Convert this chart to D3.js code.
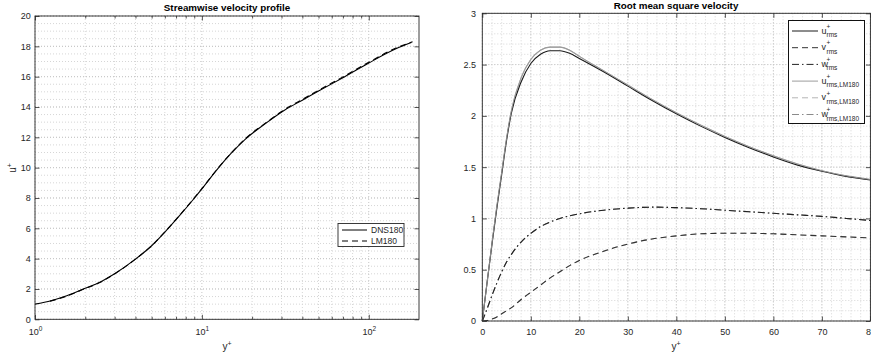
<!DOCTYPE html>
<html><head><meta charset="utf-8">
<script src="https://cdn.jsdelivr.net/npm/d3@7"></script>
<style>body{margin:0;background:#fff}svg{display:block;font-family:"Liberation Sans",Arial,Helvetica,sans-serif}</style>
</head><body><svg id="c" width="871" height="358"></svg>
<script>
// ---------- data: streamwise velocity profile ----------
const yPlusMean   = [1, 1.25, 1.5, 1.9, 2.5, 3, 3.98, 5, 6.0, 7.3, 8.8, 10, 12.5, 15, 18.1, 24, 31.4, 40, 50, 71.8, 100, 146.5, 180];
const uMeanDNS    = [1.0, 1.22, 1.5, 1.95, 2.5, 3.0, 3.95, 4.85, 5.75, 6.8, 7.85, 8.6, 9.95, 10.95, 11.85, 12.9, 13.8, 14.45, 15.05, 16.0, 16.9, 17.85, 18.25];
const yPlusMeanLM = [1.23, 1.5, 1.9, 2.5, 3, 3.98, 5, 6.0, 7.3, 8.8, 10, 12.5, 15, 18.1, 24, 31.4, 40, 50, 71.8, 100, 146.5, 183];
const uMeanLM     = [1.2, 1.47, 1.93, 2.48, 2.99, 3.95, 4.85, 5.76, 6.82, 7.87, 8.62, 9.97, 10.97, 11.88, 12.93, 13.84, 14.5, 15.1, 16.05, 16.95, 17.9, 18.3];

// ---------- data: rms velocities ----------
const yPlusRms = [0, 1, 2, 3, 4, 5, 6, 8, 10, 12, 14, 16, 18, 20, 25, 30, 35, 40, 45, 50, 55, 60, 65, 70, 75, 80];
const uRmsDNS  = [0, 0.38, 0.75, 1.1, 1.43, 1.76, 2.03, 2.33, 2.51, 2.6, 2.635, 2.635, 2.61, 2.56, 2.43, 2.29, 2.15, 2.02, 1.9, 1.79, 1.69, 1.6, 1.52, 1.46, 1.41, 1.375];
const vRmsDNS  = [0, 0.005, 0.02, 0.04, 0.07, 0.1, 0.13, 0.21, 0.28, 0.35, 0.42, 0.48, 0.54, 0.59, 0.68, 0.75, 0.80, 0.83, 0.85, 0.855, 0.855, 0.85, 0.84, 0.83, 0.82, 0.81];
const wRmsDNS  = [0, 0.12, 0.25, 0.37, 0.48, 0.575, 0.65, 0.77, 0.855, 0.92, 0.965, 1.0, 1.025, 1.045, 1.08, 1.10, 1.11, 1.105, 1.095, 1.08, 1.065, 1.05, 1.035, 1.02, 1.0, 0.98];
const uRmsLM   = [0, 0.38, 0.76, 1.12, 1.45, 1.78, 2.05, 2.37, 2.55, 2.64, 2.67, 2.67, 2.64, 2.58, 2.44, 2.3, 2.16, 2.03, 1.91, 1.8, 1.7, 1.61, 1.53, 1.465, 1.415, 1.38];
const vRmsLM   = [0, 0.005, 0.02, 0.04, 0.07, 0.1, 0.13, 0.21, 0.28, 0.35, 0.42, 0.48, 0.54, 0.59, 0.68, 0.75, 0.80, 0.83, 0.85, 0.855, 0.855, 0.85, 0.84, 0.83, 0.82, 0.81];
const wRmsLM   = [0, 0.12, 0.25, 0.37, 0.48, 0.575, 0.65, 0.77, 0.855, 0.92, 0.965, 1.0, 1.025, 1.045, 1.08, 1.10, 1.11, 1.105, 1.095, 1.08, 1.065, 1.05, 1.035, 1.02, 1.0, 0.98];

// ---------- ticks / labels ----------
const leftXTicks = [1, 10, 100];
const leftXTickExp = ["0", "1", "2"];
const leftXMinor = [2,3,4,5,6,7,8,9,20,30,40,50,60,70,80,90];
const leftYTicks = d3.range(0, 21, 2);
const leftYMinor = d3.range(0, 20.01, 0.5);
const rightXTicks = d3.range(0, 81, 10);
const rightXMinor = d3.range(0, 80.01, 2);
const rightYTicks = [0, 0.5, 1, 1.5, 2, 2.5, 3];
const rightYTickLabels = ["0", "0.5", "1", "1.5", "2", "2.5", "3"];
const rightYMinor = d3.range(0, 3.001, 0.1);
const leftLegend = ["DNS180", "LM180"];
const rmsLegendBase = ["u", "v", "w", "u", "v", "w"];
const rmsLegendSub = ["rms", "rms", "rms", "rms,LM180", "rms,LM180", "rms,LM180"];

const svg = d3.select("#c");
const AX = "#262626";
const GRID = "#c6c6c6", GRIDMINOR = "#d6d6d6";
const DASH = "6,4", DASHDOT = "7,3,1.5,3";

// ---------- left panel ----------
const L = {x0: 35, x1: 419, y0: 16, y1: 319.3};
const xL = d3.scaleLog().domain([1, 200]).range([L.x0, L.x1]);
const yL = d3.scaleLinear().domain([0, 20]).range([L.y1, L.y0]);

// ---------- right panel ----------
const R = {x0: 482.3, x1: 870.4, y0: 13.3, y1: 321};
const xR = d3.scaleLinear().domain([0, 80]).range([R.x0, R.x1]);
const yR = d3.scaleLinear().domain([0, 3]).range([R.y1, R.y0]);

function grid(P, xs, ys, xT, yT, color) {
  const g = svg.append("g").attr("fill", "none");
  g.selectAll("line.gx").data(xT).join("line").attr("class", "gx")
    .attr("x1", d => xs(d)).attr("x2", d => xs(d)).attr("y1", P.y0).attr("y2", P.y1)
    .attr("stroke", color).attr("stroke-dasharray", "1,2");
  g.selectAll("line.gy").data(yT).join("line").attr("class", "gy")
    .attr("y1", d => ys(d)).attr("y2", d => ys(d)).attr("x1", P.x0).attr("x2", P.x1)
    .attr("stroke", color).attr("stroke-dasharray", "1,2");
}

grid(L, xL, yL, leftXMinor, leftYMinor, GRIDMINOR);
grid(L, xL, yL, leftXTicks, leftYTicks, GRID);
grid(R, xR, yR, rightXMinor, rightYMinor, GRIDMINOR);
grid(R, xR, yR, rightXTicks, rightYTicks, GRID);

function styleAxis(g) {
  g.attr("color", AX).attr("font-size", 9).attr("font-family", '"Liberation Sans",Arial,sans-serif');
  g.select(".domain").remove();
  g.selectAll(".tick line").attr("stroke-width", 0.8);
}

// Left axes
const gLB = svg.append("g").attr("transform", `translate(0,${L.y1})`)
  .call(d3.axisBottom(xL).tickValues(leftXTicks).tickSize(-4.5).tickPadding(9).tickFormat(() => "10"));
styleAxis(gLB);
gLB.selectAll(".tick text").each(function(d, i) {
  d3.select(this).append("tspan").attr("dy", -4).attr("font-size", 6.5).text(leftXTickExp[i]);
});
const gLBm = svg.append("g").attr("transform", `translate(0,${L.y1})`)
  .call(d3.axisBottom(xL).tickValues(leftXMinor).tickSize(-2.5).tickFormat(""));
styleAxis(gLBm);
const gLT = svg.append("g").attr("transform", `translate(0,${L.y0})`)
  .call(d3.axisTop(xL).tickValues(leftXTicks).tickSize(-4.5).tickFormat(""));
styleAxis(gLT);
const gLTm = svg.append("g").attr("transform", `translate(0,${L.y0})`)
  .call(d3.axisTop(xL).tickValues(leftXMinor).tickSize(-2.5).tickFormat(""));
styleAxis(gLTm);
const gLL = svg.append("g").attr("transform", `translate(${L.x0},0)`)
  .call(d3.axisLeft(yL).tickValues(leftYTicks).tickSize(-4.5).tickPadding(4.3).tickFormat(d3.format("d")));
styleAxis(gLL);
const gLR = svg.append("g").attr("transform", `translate(${L.x1},0)`)
  .call(d3.axisRight(yL).tickValues(leftYTicks).tickSize(-4.5).tickFormat(""));
styleAxis(gLR);

// Right axes
const gRB = svg.append("g").attr("transform", `translate(0,${R.y1})`)
  .call(d3.axisBottom(xR).tickValues(rightXTicks).tickSize(-4.5).tickPadding(7.2).tickFormat(d3.format("d")));
styleAxis(gRB);
const gRT = svg.append("g").attr("transform", `translate(0,${R.y0})`)
  .call(d3.axisTop(xR).tickValues(rightXTicks).tickSize(-4.5).tickFormat(""));
styleAxis(gRT);
const gRL = svg.append("g").attr("transform", `translate(${R.x0},0)`)
  .call(d3.axisLeft(yR).tickValues(rightYTicks).tickSize(-4.5).tickPadding(6.3).tickFormat((d, i) => rightYTickLabels[i]));
styleAxis(gRL);
const gRR = svg.append("g").attr("transform", `translate(${R.x1},0)`)
  .call(d3.axisRight(yR).tickValues(rightYTicks).tickSize(-4.5).tickFormat(""));
styleAxis(gRR);

// Lines
const lnL = d3.line().x(d => xL(d[0])).y(d => yL(d[1])).curve(d3.curveMonotoneX);
const lineR = d3.line().x(d => xR(d[0])).y(d => yR(d[1])).curve(d3.curveMonotoneX);

svg.append("path").datum(d3.zip(yPlusMean, uMeanDNS)).attr("d", lnL)
  .attr("fill", "none").attr("stroke", "#000").attr("stroke-width", 1.1);
svg.append("path").datum(d3.zip(yPlusMeanLM, uMeanLM)).attr("d", lnL)
  .attr("fill", "none").attr("stroke", "#000").attr("stroke-width", 1.1).attr("stroke-dasharray", DASH);

const rmsSeries = [
  {v: uRmsLM, c: "#9c9c9c", d: null},
  {v: vRmsLM, c: "#b4b4b4", d: DASH},
  {v: wRmsLM, c: "#8a8a8a", d: DASHDOT},
  {v: uRmsDNS, c: "#1a1a1a", d: null},
  {v: vRmsDNS, c: "#333", d: DASH},
  {v: wRmsDNS, c: "#222", d: DASHDOT},
];
rmsSeries.forEach(s => {
  svg.append("path").datum(d3.zip(yPlusRms, s.v)).attr("d", lineR)
    .attr("fill", "none").attr("stroke", s.c).attr("stroke-width", 1.1)
    .attr("stroke-dasharray", s.d);
});
// LM u drawn again on top (visible above DNS near the peak)
svg.append("path").datum(d3.zip(yPlusRms, uRmsLM)).attr("d", lineR)
  .attr("fill", "none").attr("stroke", "#9c9c9c").attr("stroke-width", 0.9);

// Box
svg.append("rect").attr("x", L.x0).attr("y", L.y0).attr("width", L.x1 - L.x0).attr("height", L.y1 - L.y0)
  .attr("fill", "none").attr("stroke", AX).attr("stroke-width", 0.9);
svg.append("rect").attr("x", R.x0).attr("y", R.y0).attr("width", R.x1 - R.x0).attr("height", R.y1 - R.y0)
  .attr("fill", "none").attr("stroke", AX).attr("stroke-width", 0.9);

// Titles
svg.append("text").attr("x", 227).attr("y", 11.3).attr("text-anchor", "middle")
  .attr("font-size", 9.8).attr("font-weight", "bold").attr("fill", "#000").text("Streamwise velocity profile");
svg.append("text").attr("x", 676).attr("y", 8.7).attr("text-anchor", "middle")
  .attr("font-size", 9.8).attr("font-weight", "bold").attr("fill", "#000").text("Root mean square velocity");

// Axis labels
function axLabel(x, y, base, rot) {
  const t = svg.append("text").attr("text-anchor", "middle").attr("font-size", 10).attr("fill", AX)
    .attr("transform", `translate(${x},${y})` + (rot ? " rotate(-90)" : ""));
  t.append("tspan").text(base);
  t.append("tspan").attr("dy", -4).attr("font-size", 7).text("+");
}
axLabel(227, 349.5, "y", false);
axLabel(676, 349.5, "y", false);
axLabel(16, 168, "u", true);

// Left legend
const lg = svg.append("g");
lg.append("rect").attr("x", 338).attr("y", 223.5).attr("width", 66).attr("height", 23)
  .attr("fill", "#fff").attr("stroke", AX).attr("stroke-width", 0.9);
leftLegend.forEach((name, i) => {
  const y = 230 + i * 11;
  lg.append("line").attr("x1", 342).attr("x2", 367).attr("y1", y).attr("y2", y)
    .attr("stroke", "#000").attr("stroke-width", 1).attr("stroke-dasharray", i ? DASH : null);
  lg.append("text").attr("x", 371).attr("y", y + 3).attr("font-size", 8.5).attr("fill", AX).text(name);
});

// Right legend
const rg = svg.append("g");
rg.append("rect").attr("x", 788.5).attr("y", 20.5).attr("width", 76).attr("height", 103)
  .attr("fill", "#fff").attr("stroke", "#111").attr("stroke-width", 1);
rmsLegendBase.forEach((b, i) => {
  const y = 31 + i * 16.7;
  const s = rmsSeries[(i + 3) % 6];
  rg.append("line").attr("x1", 792).attr("x2", 818).attr("y1", y).attr("y2", y)
    .attr("stroke", s.c).attr("stroke-width", 1).attr("stroke-dasharray", s.d);
  rg.append("text").attr("x", 821.5).attr("y", y + 2.5).attr("font-size", 9).attr("fill", AX).text(b);
  rg.append("text").attr("x", 826.5).attr("y", y - 2.3).attr("font-size", 6.5).attr("fill", AX).text("+");
  rg.append("text").attr("x", 826.5).attr("y", y + 6).attr("font-size", 6.5).attr("fill", AX).text(rmsLegendSub[i]);
});
</script>
</body></html>
